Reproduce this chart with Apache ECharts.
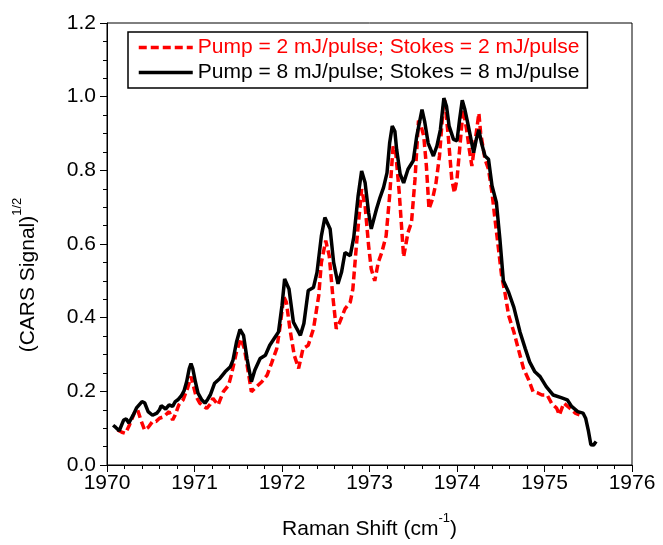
<!DOCTYPE html>
<html>
<head>
<meta charset="utf-8">
<script src="https://cdn.jsdelivr.net/npm/echarts@6/dist/echarts.min.js"></script>
<style>
  html, body { margin: 0; padding: 0; background: #fff; }
  #chart { width: 663px; height: 545px; }
</style>
</head>
<body>
<div id="chart"></div>
<script>
// Raman shift (cm^-1) and square-root CARS signal for the 2 mJ/pulse run
const shiftLow = [
  1970.12, 1970.17, 1970.21, 1970.25, 1970.28, 1970.32, 1970.35, 1970.39, 1970.43, 1970.47,
  1970.52, 1970.56, 1970.60, 1970.65, 1970.71, 1970.75, 1970.78, 1970.82, 1970.87, 1970.92,
  1970.96, 1970.98, 1971.02, 1971.06, 1971.10, 1971.14, 1971.18, 1971.21, 1971.27, 1971.33,
  1971.39, 1971.42, 1971.48, 1971.53, 1971.57, 1971.62, 1971.65, 1971.71, 1971.77, 1971.83,
  1971.88, 1971.94, 1971.98, 1972.02, 1972.05, 1972.09, 1972.14, 1972.19, 1972.24, 1972.30,
  1972.36, 1972.42, 1972.45, 1972.50, 1972.54, 1972.58, 1972.62, 1972.66, 1972.72, 1972.78,
  1972.81, 1972.85, 1972.91, 1972.95, 1972.99, 1973.02, 1973.06, 1973.10, 1973.14, 1973.19,
  1973.23, 1973.27, 1973.30, 1973.34, 1973.39, 1973.44, 1973.48, 1973.52, 1973.56, 1973.59,
  1973.62, 1973.65, 1973.68, 1973.72, 1973.76, 1973.80, 1973.84, 1973.86, 1973.90, 1973.94,
  1973.97, 1974.00, 1974.03, 1974.07, 1974.11, 1974.14, 1974.17, 1974.21, 1974.25, 1974.27,
  1974.32, 1974.36, 1974.40, 1974.43, 1974.47, 1974.51, 1974.55, 1974.59, 1974.65, 1974.70,
  1974.76, 1974.82, 1974.87, 1974.93, 1974.97, 1975.03, 1975.08, 1975.14, 1975.17, 1975.22,
  1975.29, 1975.35, 1975.40
];
const signalLow = [
  0.095, 0.089, 0.086, 0.105, 0.122, 0.145, 0.150, 0.120, 0.095, 0.102,
  0.118, 0.118, 0.127, 0.131, 0.145, 0.122, 0.136, 0.163, 0.177, 0.208,
  0.240, 0.235, 0.185, 0.168, 0.160, 0.154, 0.165, 0.181, 0.163, 0.199,
  0.217, 0.244, 0.307, 0.343, 0.316, 0.244, 0.199, 0.213, 0.226, 0.244,
  0.276, 0.316, 0.379, 0.457, 0.442, 0.370, 0.298, 0.262, 0.316, 0.325,
  0.370, 0.460, 0.550, 0.609, 0.568, 0.460, 0.370, 0.388, 0.424, 0.442,
  0.478, 0.595, 0.749, 0.703, 0.595, 0.532, 0.500, 0.550, 0.577, 0.622,
  0.731, 0.865, 0.848, 0.739, 0.565, 0.631, 0.659, 0.776, 0.935, 0.920,
  0.893, 0.812, 0.695, 0.722, 0.766, 0.839, 0.965, 0.990, 0.893, 0.776,
  0.739, 0.776, 0.857, 0.965, 0.910, 0.857, 0.812, 0.884, 0.955, 0.902,
  0.830, 0.803, 0.739, 0.676, 0.595, 0.514, 0.465, 0.406, 0.361, 0.316,
  0.262, 0.231, 0.199, 0.195, 0.190, 0.190, 0.168, 0.154, 0.136, 0.168,
  0.154, 0.141, 0.136
];

// Same quantities for the 8 mJ/pulse run
const shiftHigh = [
  1970.07, 1970.10, 1970.14, 1970.19, 1970.22, 1970.25, 1970.30, 1970.34, 1970.40, 1970.43,
  1970.47, 1970.52, 1970.57, 1970.60, 1970.62, 1970.67, 1970.71, 1970.75, 1970.78, 1970.81,
  1970.85, 1970.88, 1970.91, 1970.94, 1970.96, 1970.98, 1971.01, 1971.04, 1971.08, 1971.12,
  1971.15, 1971.18, 1971.23, 1971.29, 1971.35, 1971.41, 1971.44, 1971.48, 1971.52, 1971.54,
  1971.56, 1971.60, 1971.65, 1971.69, 1971.75, 1971.81, 1971.86, 1971.92, 1971.96, 1972.00,
  1972.03, 1972.05, 1972.08, 1972.13, 1972.21, 1972.25, 1972.30, 1972.36, 1972.40, 1972.45,
  1972.49, 1972.51, 1972.55, 1972.59, 1972.64, 1972.68, 1972.72, 1972.78, 1972.82, 1972.87,
  1972.91, 1972.95, 1972.99, 1973.02, 1973.08, 1973.12, 1973.16, 1973.20, 1973.23, 1973.26,
  1973.29, 1973.31, 1973.35, 1973.39, 1973.44, 1973.50, 1973.54, 1973.60, 1973.63, 1973.67,
  1973.73, 1973.77, 1973.81, 1973.85, 1973.88, 1973.91, 1973.96, 1974.00, 1974.03, 1974.06,
  1974.09, 1974.13, 1974.19, 1974.22, 1974.25, 1974.28, 1974.32, 1974.36, 1974.40, 1974.45,
  1974.49, 1974.53, 1974.59, 1974.65, 1974.72, 1974.78, 1974.83, 1974.89, 1974.95, 1975.02,
  1975.10, 1975.19, 1975.26, 1975.31, 1975.38, 1975.44, 1975.47, 1975.50, 1975.53, 1975.56,
  1975.59
];
const signalHigh = [
  0.108, 0.102, 0.093, 0.122, 0.125, 0.114, 0.136, 0.156, 0.172, 0.169,
  0.145, 0.135, 0.141, 0.150, 0.161, 0.152, 0.163, 0.159, 0.172, 0.177,
  0.188, 0.201, 0.226, 0.262, 0.275, 0.262, 0.226, 0.195, 0.178, 0.168,
  0.178, 0.190, 0.222, 0.235, 0.253, 0.267, 0.285, 0.334, 0.368, 0.372,
  0.352, 0.289, 0.226, 0.258, 0.289, 0.298, 0.325, 0.347, 0.361, 0.433,
  0.505, 0.510, 0.478, 0.388, 0.352, 0.384, 0.474, 0.482, 0.523, 0.622,
  0.672, 0.670, 0.641, 0.550, 0.492, 0.523, 0.577, 0.568, 0.618, 0.731,
  0.798, 0.766, 0.685, 0.641, 0.695, 0.726, 0.753, 0.793, 0.874, 0.920,
  0.906, 0.857, 0.790, 0.766, 0.803, 0.826, 0.893, 0.965, 0.933, 0.874,
  0.839, 0.866, 0.910, 0.996, 0.974, 0.920, 0.884, 0.880, 0.939, 0.990,
  0.965, 0.920, 0.848, 0.884, 0.910, 0.874, 0.839, 0.830, 0.758, 0.713,
  0.614, 0.500, 0.469, 0.428, 0.361, 0.316, 0.280, 0.253, 0.240, 0.213,
  0.190, 0.183, 0.177, 0.159, 0.145, 0.141, 0.127, 0.095, 0.055, 0.054,
  0.064
];

const seriesNames = [
  'Pump = 2 mJ/pulse; Stokes = 2 mJ/pulse',
  'Pump = 8 mJ/pulse; Stokes = 8 mJ/pulse'
];
const xRange = [1970, 1976];
const yRange = [0, 1.2];

const zip = (xs, ys) => xs.map((x, i) => [x, ys[i]]);
const FONT = 'Arial, "Liberation Sans", sans-serif';

const chart = echarts.init(document.getElementById('chart'), null, { renderer: 'canvas' });

chart.setOption({
  animation: false,
  backgroundColor: '#fff',
  grid: {
    left: 107, right: 31, top: 23, bottom: 78,
    show: true, borderColor: '#000', borderWidth: 1, backgroundColor: 'transparent'
  },
  legend: {
    orient: 'vertical',
    left: 128, top: 32,
    padding: [5, 8, 5, 9],
    itemGap: 4,
    itemWidth: 54,
    itemHeight: 14,
    borderColor: '#000',
    borderWidth: 1.5,
    itemStyle: { opacity: 0 },
    lineStyle: { width: 3.5 },
    data: [
      { name: seriesNames[0], textStyle: { color: '#ff0000' } },
      { name: seriesNames[1], textStyle: { color: '#000000' } }
    ],
    textStyle: { fontFamily: FONT, fontSize: 21, lineHeight: 21 }
  },
  xAxis: {
    type: 'value',
    min: xRange[0], max: xRange[1], interval: 1,
    name: '{a|Raman Shift (cm}{s|-1}{a|)}',
    nameLocation: 'middle',
    nameGap: 47,
    nameTextStyle: {
      rich: {
        a: { fontFamily: FONT, fontSize: 21, color: '#000', lineHeight: 28, verticalAlign: 'bottom' },
        s: { fontFamily: FONT, fontSize: 13, color: '#000', lineHeight: 13, verticalAlign: 'top' }
      }
    },
    axisLine: { show: true, lineStyle: { color: '#000', width: 1 } },
    axisTick: { show: true, inside: false, length: 7, lineStyle: { color: '#000' } },
    minorTick: { show: true, splitNumber: 5, length: 4, lineStyle: { color: '#000' } },
    axisLabel: {
      fontFamily: FONT, fontSize: 21, color: '#000', margin: 8,
      formatter: v => String(v)
    },
    splitLine: { show: false }
  },
  yAxis: {
    type: 'value',
    min: yRange[0], max: yRange[1], interval: 0.2,
    axisLine: { show: true, lineStyle: { color: '#000', width: 1 } },
    axisTick: { show: true, inside: false, length: 7, lineStyle: { color: '#000' } },
    minorTick: { show: true, splitNumber: 4, length: 4, lineStyle: { color: '#000' } },
    axisLabel: {
      fontFamily: FONT, fontSize: 21, color: '#000', margin: 11,
      formatter: v => v.toFixed(1)
    },
    splitLine: { show: false }
  },
  graphic: [{
    type: 'text',
    x: 25, y: 275,
    rotation: Math.PI / 2,
    style: {
      text: '{a|(CARS Signal)}{s|1/2}',
      align: 'center',
      verticalAlign: 'middle',
      rich: {
        a: { fontFamily: FONT, fontSize: 21, fill: '#000', lineHeight: 28, verticalAlign: 'bottom' },
        s: { fontFamily: FONT, fontSize: 13, fill: '#000', lineHeight: 13, verticalAlign: 'top' }
      }
    }
  }],
  series: [
    {
      name: seriesNames[0],
      type: 'line',
      data: zip(shiftLow, signalLow),
      symbol: 'none',
      smooth: false,
      lineStyle: { color: '#ff0000', width: 3.5, type: [8, 4] },
      itemStyle: { color: '#ff0000' },
      z: 2
    },
    {
      name: seriesNames[1],
      type: 'line',
      data: zip(shiftHigh, signalHigh),
      symbol: 'none',
      smooth: false,
      lineStyle: { color: '#000000', width: 3.5 },
      itemStyle: { color: '#000000' },
      z: 3
    }
  ]
});
</script>
</body>
</html>
